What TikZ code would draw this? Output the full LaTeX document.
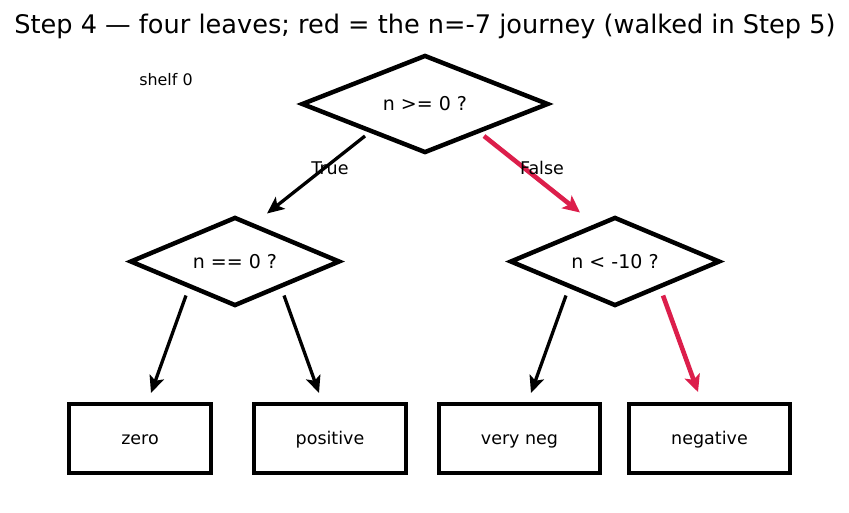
\documentclass[tikz,border=0pt]{standalone}
\usepackage{fontspec}
\setmainfont{DejaVu Sans}
\usetikzlibrary{shapes.geometric,arrows.meta,calc}
\definecolor{journey}{RGB}{220,30,75}
\begin{document}
\begin{tikzpicture}[x=1pt,y=-1pt,
  dec/.style={diamond, draw, line width=4.5pt, inner sep=0pt, shape aspect=2.5, font=\fontsize{19}{22}\selectfont},
  leaf/.style={rectangle, draw, line width=4.5pt, inner sep=0pt, minimum height=69pt, text height=14pt, text depth=3pt, font=\fontsize{17.5}{20}\selectfont},
  edge/.style={line width=3.3pt, -{Stealth[length=17pt,width=15pt,inset=4pt]}},
  redge/.style={edge, line width=4.6pt, draw=journey, -{Stealth[length=17pt,width=16pt,inset=4pt]}},
  lbl/.style={font=\fontsize{17.5}{20}\selectfont, inner sep=0pt}]
\useasboundingbox (0,0) rectangle (849,512);
\node[font=\fontsize{25.6}{30}\selectfont, inner sep=0pt] (title) at (425,26) {Step 4 — four leaves; red = the n=-7 journey (walked in Step 5)};
\node[font=\fontsize{15.9}{18}\selectfont, inner sep=0pt] (shelf) at (166,80) {shelf 0};
\node[dec, minimum width=247pt, minimum height=98pt] (d1) at (425,104) {n >= 0 ?};
\node[dec, minimum width=210pt, minimum height=89pt] (d2) at (235,261.5) {n == 0 ?};
\node[dec, minimum width=210pt, minimum height=89pt] (d3) at (615,261.5) {n < -10 ?};
\node[leaf, minimum width=142pt] (zero) at (140,438.5) {zero};
\node[leaf, minimum width=152pt] (pos) at (330,438.5) {positive};
\node[leaf, minimum width=161pt] (vneg) at (519.5,438.5) {very neg};
\node[leaf, minimum width=161pt] (neg) at (709.5,438.5) {negative};
\draw[edge] ($(d1.center)+(-60,32)$) -- ($(d2.center)+(32,-48)$);
\draw[redge] ($(d1.center)+(59,32)$) -- ($(d3.center)+(-35,-49)$);
\draw[edge] ($(d2.center)+(-49,34)$) -- ($(zero.center)+(11,-45.5)$);
\draw[edge] ($(d2.center)+(49,34)$) -- ($(pos.center)+(-11,-45.5)$);
\draw[edge] ($(d3.center)+(-49,34)$) -- ($(vneg.center)+(11.5,-45.5)$);
\draw[redge] ($(d3.center)+(48,34)$) -- ($(neg.center)+(-11.5,-46.5)$);
\node[lbl] (ltrue) at (330,168) {True};
\node[lbl] (lfalse) at (542,168) {False};
\end{tikzpicture}
\end{document}
